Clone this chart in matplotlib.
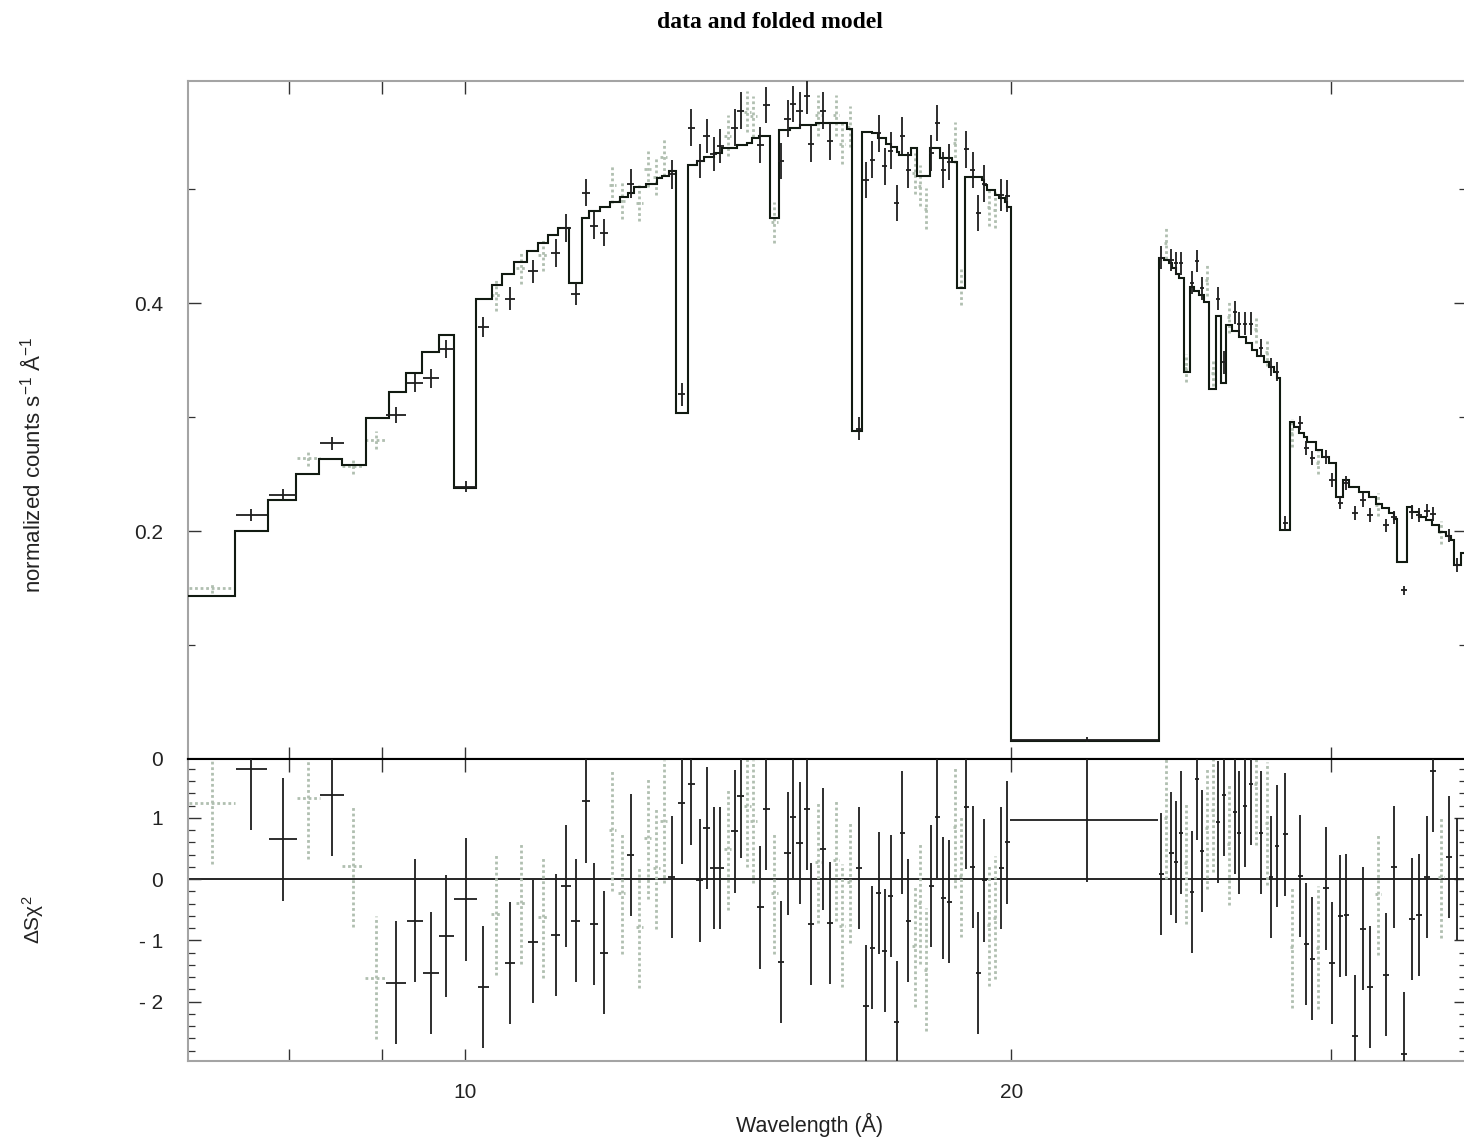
import matplotlib
matplotlib.use("Agg")
import matplotlib.pyplot as plt
from matplotlib.ticker import FixedLocator, FixedFormatter, NullLocator, MultipleLocator

plt.rcParams['font.family'] = ['Liberation Sans', 'DejaVu Sans']
plt.rcParams['mathtext.default'] = 'regular'

# folded model: bin edges (Angstrom) and model rate in each bin
model_edges = [7.04, 7.47, 7.79, 8.07, 8.31, 8.56, 8.82, 9.08, 9.28, 9.47, 9.68, 9.87,
               10.15, 10.35, 10.49, 10.65, 10.82, 10.97, 11.12, 11.25, 11.42, 11.60,
               11.70, 11.87, 12.02, 12.17, 12.30, 12.40, 12.59, 12.76, 12.85, 12.95,
               13.07, 13.27, 13.42, 13.55, 13.71, 13.85, 14.13, 14.30, 14.40, 14.53,
               14.72, 14.89, 15.10, 15.29, 15.62, 16.23, 16.35, 16.56, 16.77, 16.88,
               17.07, 17.18, 17.29, 17.35, 17.62, 17.75, 18.03, 18.26, 18.56, 18.68,
               18.85, 19.26, 19.33, 19.40, 19.58, 19.70, 19.83, 19.90, 20.00,
               24.13, 24.28, 24.44, 24.53, 24.65, 24.75, 24.90, 25.09, 25.22, 25.38,
               25.54, 25.70, 25.93, 26.10, 26.27, 26.47, 26.70, 26.94, 27.14, 27.32,
               27.56, 27.74, 27.91, 28.02, 28.12, 28.48, 28.63, 28.81, 28.99, 29.10,
               29.44, 29.66, 29.93, 30.19, 30.46, 30.69, 31.09, 31.48, 31.76, 32.00,
               32.29, 32.50, 32.62, 33.04, 33.25, 33.54, 33.84, 34.10, 34.40, 34.71,
               34.93, 35.06, 35.38, 35.74]
model_flux = [0.143, 0.200, 0.227, 0.250, 0.263, 0.258, 0.299, 0.322, 0.339, 0.357, 0.372, 0.238,
              0.404, 0.416, 0.426, 0.436, 0.446, 0.453, 0.460, 0.466, 0.418, 0.475,
              0.481, 0.484, 0.489, 0.493, 0.497, 0.502, 0.505, 0.510, 0.512, 0.516,
              0.304, 0.521, 0.525, 0.528, 0.532, 0.536, 0.539, 0.541, 0.545, 0.547,
              0.475, 0.552, 0.554, 0.556, 0.558, 0.553, 0.288, 0.550, 0.549, 0.545,
              0.540, 0.537, 0.533, 0.530, 0.536, 0.512, 0.536, 0.527, 0.524, 0.413,
              0.511, 0.508, 0.504, 0.499, 0.495, 0.492, 0.489, 0.484, 0.016,
              0.440, 0.438, 0.435, 0.431, 0.426, 0.422, 0.340, 0.414, 0.411, 0.407,
              0.401, 0.325, 0.389, 0.330, 0.381, 0.376, 0.370, 0.365, 0.359, 0.354,
              0.348, 0.344, 0.340, 0.334, 0.201, 0.296, 0.291, 0.286, 0.283, 0.278,
              0.271, 0.265, 0.260, 0.230, 0.245, 0.239, 0.234, 0.230, 0.224, 0.220,
              0.216, 0.211, 0.173, 0.221, 0.217, 0.212, 0.210, 0.205, 0.199, 0.196,
              0.192, 0.170, 0.181]

# data set 1
ds1_wave = [7.63, 7.94, 8.45, 9.17, 9.39, 9.58, 9.77, 10.01, 10.24, 10.59, 10.90, 11.22,
            11.37, 11.51, 11.66, 11.78, 11.93, 12.34, 13.00, 13.17, 13.33, 13.47, 13.59,
            13.71, 13.83, 14.08, 14.19, 14.55, 14.66, 14.94, 15.06, 15.17, 15.29, 15.43,
            15.52, 15.76, 15.90, 16.48, 16.64, 16.77, 16.90, 17.03, 17.16, 17.29, 17.42,
            17.55, 18.07, 18.21, 18.35, 18.49, 18.89, 19.04, 19.18, 19.33, 19.75, 19.90,
            22.02, 24.19, 24.50, 24.65, 24.81, 25.16, 25.32, 25.48, 26.00, 26.20, 26.57,
            26.70, 26.90, 27.11, 27.46, 27.81, 28.02, 28.30, 28.85, 29.07, 29.29, 29.81,
            30.04, 30.35, 30.58, 30.93, 31.24, 31.52, 32.17, 32.50, 32.91, 33.24, 33.54,
            33.88, 34.14, 34.84, 35.20]
ds1_werr = [0.15, 0.14, 0.125, 0.115, 0.10, 0.095, 0.095, 0.15, 0.075, 0.07, 0.07, 0.07,
            0.07, 0.07, 0.06, 0.06, 0.06, 0.06, 0.06, 0.06, 0.06, 0.06, 0.06,
            0.06, 0.06, 0.06, 0.06, 0.06, 0.06, 0.06, 0.06, 0.06, 0.06, 0.06,
            0.06, 0.06, 0.06, 0.06, 0.06, 0.06, 0.06, 0.06, 0.06, 0.06, 0.06,
            0.06, 0.06, 0.06, 0.06, 0.06, 0.06, 0.06, 0.06, 0.06, 0.06, 0.06,
            2.06, 0.07, 0.07, 0.07, 0.07, 0.07, 0.07, 0.07, 0.07, 0.07, 0.07,
            0.07, 0.07, 0.07, 0.07, 0.07, 0.07, 0.09, 0.09, 0.09, 0.09, 0.10,
            0.10, 0.10, 0.10, 0.12, 0.12, 0.12, 0.12, 0.12, 0.12, 0.12, 0.12,
            0.12, 0.12, 0.12, 0.12]
ds1_flux = [0.214, 0.232, 0.277, 0.302, 0.330, 0.334, 0.360, 0.239, 0.379, 0.404, 0.428, 0.444,
            0.466, 0.408, 0.497, 0.468, 0.462, 0.505, 0.513, 0.320, 0.554, 0.525, 0.547,
            0.531, 0.538, 0.554, 0.569, 0.539, 0.574, 0.525, 0.562, 0.575, 0.569, 0.582,
            0.540, 0.569, 0.542, 0.290, 0.508, 0.526, 0.549, 0.520, 0.534, 0.488, 0.547,
            0.517, 0.532, 0.558, 0.517, 0.524, 0.535, 0.517, 0.479, 0.505, 0.495, 0.494,
            0.017, 0.440, 0.438, 0.435, 0.435, 0.418, 0.437, 0.413, 0.404, 0.348, 0.392,
            0.382, 0.382, 0.382, 0.361, 0.344, 0.340, 0.207, 0.295, 0.273, 0.264, 0.265,
            0.245, 0.225, 0.242, 0.216, 0.227, 0.214, 0.205, 0.212, 0.148, 0.217, 0.214,
            0.218, 0.215, 0.196, 0.170]
ds1_ferr = [0.005, 0.005, 0.006, 0.007, 0.008, 0.008, 0.008, 0.005, 0.009, 0.010, 0.010, 0.012,
            0.012, 0.010, 0.012, 0.012, 0.012, 0.013, 0.013, 0.010, 0.016, 0.015, 0.015,
            0.015, 0.015, 0.016, 0.016, 0.016, 0.016, 0.016, 0.016, 0.016, 0.016, 0.016,
            0.016, 0.016, 0.016, 0.010, 0.016, 0.016, 0.016, 0.016, 0.016, 0.016, 0.016,
            0.016, 0.016, 0.016, 0.016, 0.016, 0.016, 0.016, 0.016, 0.016, 0.014, 0.014,
            0.002, 0.010, 0.010, 0.010, 0.010, 0.010, 0.010, 0.010, 0.010, 0.010, 0.010,
            0.010, 0.010, 0.010, 0.008, 0.008, 0.008, 0.006, 0.006, 0.006, 0.006, 0.006,
            0.006, 0.006, 0.006, 0.006, 0.006, 0.006, 0.006, 0.006, 0.004, 0.006, 0.006,
            0.006, 0.006, 0.006, 0.006]
ds1_delchi = [1.80, 0.65, 1.37, -1.69, -0.68, -1.53, -0.93, -0.33, -1.76, -1.37, -1.02, -0.91,
              -0.11, -0.68, 1.27, -0.73, -1.20, 0.39, 0.03, 1.24, 1.56, -0.02, 0.83,
              0.18, 0.18, 0.78, 1.35, -0.46, 1.15, -1.35, 0.42, 1.01, 0.59, 1.15,
              -0.73, 0.49, -0.72, 0.18, -2.07, -1.12, -0.23, -1.17, -0.28, -2.33, 0.76,
              -0.68, -0.11, 1.01, -0.31, -0.37, 1.17, 0.20, -1.53, -0.02, 0.18, 0.60,
              0.96, 0.08, 0.42, 0.28, 0.76, -0.21, 1.64, 0.46, 0.93, 1.37, 1.09,
              0.76, 1.20, 1.56, 0.76, 0.03, 0.54, 0.73, 0.05, -1.06, -1.30, -0.15,
              -1.37, -0.60, -0.59, -2.57, -0.81, -1.76, -1.56, 0.20, -2.85, -0.65, -0.59,
              0.03, 1.77, 0.36, 0.00]

# data set 2
ds2_wave = [7.26, 8.20, 8.68, 8.93, 10.41, 10.74, 11.05, 12.06, 12.20, 12.48, 12.61, 12.75,
            12.87, 13.96, 14.31, 14.42, 14.81, 15.66, 16.02, 16.14, 16.29, 17.69, 17.82,
            17.96, 18.63, 18.77, 19.45, 19.60, 24.34, 24.97, 25.64, 25.83, 26.36, 27.28,
            27.66, 28.56, 29.51, 31.84, 34.49]
ds2_werr = [0.215, 0.12, 0.12, 0.12, 0.07, 0.07, 0.07, 0.06, 0.06, 0.06, 0.06, 0.06,
            0.06, 0.06, 0.06, 0.06, 0.06, 0.06, 0.06, 0.06, 0.06, 0.06, 0.06,
            0.06, 0.06, 0.06, 0.06, 0.06, 0.07, 0.07, 0.07, 0.07, 0.07, 0.07,
            0.07, 0.09, 0.09, 0.12, 0.12]
ds2_flux = [0.150, 0.264, 0.257, 0.280, 0.407, 0.431, 0.442, 0.504, 0.490, 0.488, 0.518, 0.511,
            0.528, 0.547, 0.568, 0.564, 0.471, 0.565, 0.565, 0.540, 0.555, 0.514, 0.503,
            0.483, 0.541, 0.414, 0.484, 0.482, 0.453, 0.343, 0.420, 0.339, 0.388, 0.377,
            0.357, 0.286, 0.260, 0.223, 0.199]
ds2_ferr = [0.004, 0.007, 0.007, 0.008, 0.014, 0.014, 0.014, 0.016, 0.016, 0.016, 0.016, 0.016,
            0.016, 0.018, 0.018, 0.018, 0.018, 0.018, 0.018, 0.018, 0.018, 0.018, 0.018,
            0.018, 0.018, 0.016, 0.016, 0.016, 0.014, 0.012, 0.014, 0.012, 0.014, 0.012,
            0.012, 0.012, 0.010, 0.010, 0.010]
ds2_delchi = [1.24, 1.32, 0.21, -1.61, -0.57, -0.39, -0.62, 0.80, -0.23, -0.78, 0.67, 0.18,
              0.94, 0.49, 1.19, 0.94, -0.23, 0.28, 0.31, -0.76, -0.05, -1.09, -0.39,
              -1.48, 0.85, 0.05, -0.75, -0.63, 1.00, 0.26, 0.83, 1.12, 0.57, 1.56,
              0.91, -1.11, -1.12, -0.24, 0.03]

xtick_vals = [8, 9, 10, 20, 30]
xtick_text = ['', '', '10', '20', '']
flux_ticks = [0, 0.2, 0.4]
flux_text = ['0', '0.2', '0.4']
chi_ticks = [-2, -1, 0, 1]
chi_text = ['- 2', '- 1', '0', '1']

C1 = '#1e1e1e'
C2 = '#b0bfb0'
FRAME = '#a4a4a4'

W, H = 1464.0, 1141.0
fig = plt.figure(figsize=(W / 100, H / 100), dpi=100)
ax = fig.add_axes([188 / W, 1 - 759 / H, 1278 / W, 678 / H])
axr = fig.add_axes([188 / W, 1 - 1061 / H, 1278 / W, 302 / H])


def dotted(eb):
    for lc in eb[2]:
        lc.set_linestyle((0, (1, 1)))


# spectrum panel
ax.stairs(model_flux, model_edges, baseline=None, color='#111a11', lw=1.5, zorder=3)
eb = ax.errorbar(ds2_wave, ds2_flux, xerr=ds2_werr, yerr=ds2_ferr, fmt='none',
                 ecolor=C2, elinewidth=2.0, zorder=2)
dotted(eb)
ax.errorbar(ds1_wave, ds1_flux, xerr=ds1_werr, yerr=ds1_ferr, fmt='none',
            ecolor=C1, elinewidth=1.3, zorder=4)

# residual panel
axr.axhline(0, color='black', lw=1.2, zorder=1)
eb = axr.errorbar(ds2_wave, ds2_delchi, xerr=ds2_werr, yerr=1, fmt='none',
                  ecolor=C2, elinewidth=2.0, zorder=2)
dotted(eb)
axr.errorbar(ds1_wave, ds1_delchi, xerr=ds1_werr, yerr=1, fmt='none',
             ecolor=C1, elinewidth=1.3, zorder=3)

for a in (ax, axr):
    a.set_xscale('log')
    a.set_xlim(7.04, 35.6)
    a.xaxis.set_major_locator(FixedLocator(xtick_vals))
    a.xaxis.set_major_formatter(FixedFormatter(xtick_text))
    a.xaxis.set_minor_locator(NullLocator())
    a.tick_params(which='both', direction='in', top=True, right=True, color='#333333',
                  labelsize=15, labelcolor='#222222')
    a.tick_params(which='major', length=9, width=1.0)
    a.tick_params(which='minor', length=5, width=0.9)
    for s in a.spines.values():
        s.set_color(FRAME)
        s.set_linewidth(1.5)

ax.set_ylim(0, 0.595)
ax.yaxis.set_major_locator(FixedLocator(flux_ticks))
ax.yaxis.set_major_formatter(FixedFormatter(flux_text))
ax.yaxis.set_minor_locator(FixedLocator([0.1, 0.3, 0.5]))
ax.tick_params(axis='x', labelbottom=False)
ax.tick_params(axis='y', pad=18)
ax.spines['bottom'].set_color('black')

axr.set_ylim(-2.97, 1.96)
axr.yaxis.set_major_locator(FixedLocator(chi_ticks))
axr.yaxis.set_major_formatter(FixedFormatter(chi_text))
axr.yaxis.set_minor_locator(MultipleLocator(0.2))
axr.tick_params(axis='y', pad=18)
axr.tick_params(axis='x', pad=16)
axr.spines['top'].set_color('black')

fig.text(770 / W, 1 - 22 / H, 'data and folded model', ha='center', va='center',
         fontfamily='Liberation Serif', fontweight='bold', fontsize=17)
fig.text(33 / W, 1 - 465 / H, 'normalized counts s$^{-1}$ Å$^{-1}$', rotation=90,
         ha='center', va='center', fontsize=16, color='#222222')
fig.text(33 / W, 1 - 920 / H, 'ΔSχ$^{2}$', rotation=90,
         ha='center', va='center', fontsize=15, color='#222222')
fig.text(810 / W, 1 - 1125 / H, 'Wavelength (Å)', ha='center', va='center',
         fontsize=15.5, color='#222222')

fig.savefig('out.png', dpi=100)
